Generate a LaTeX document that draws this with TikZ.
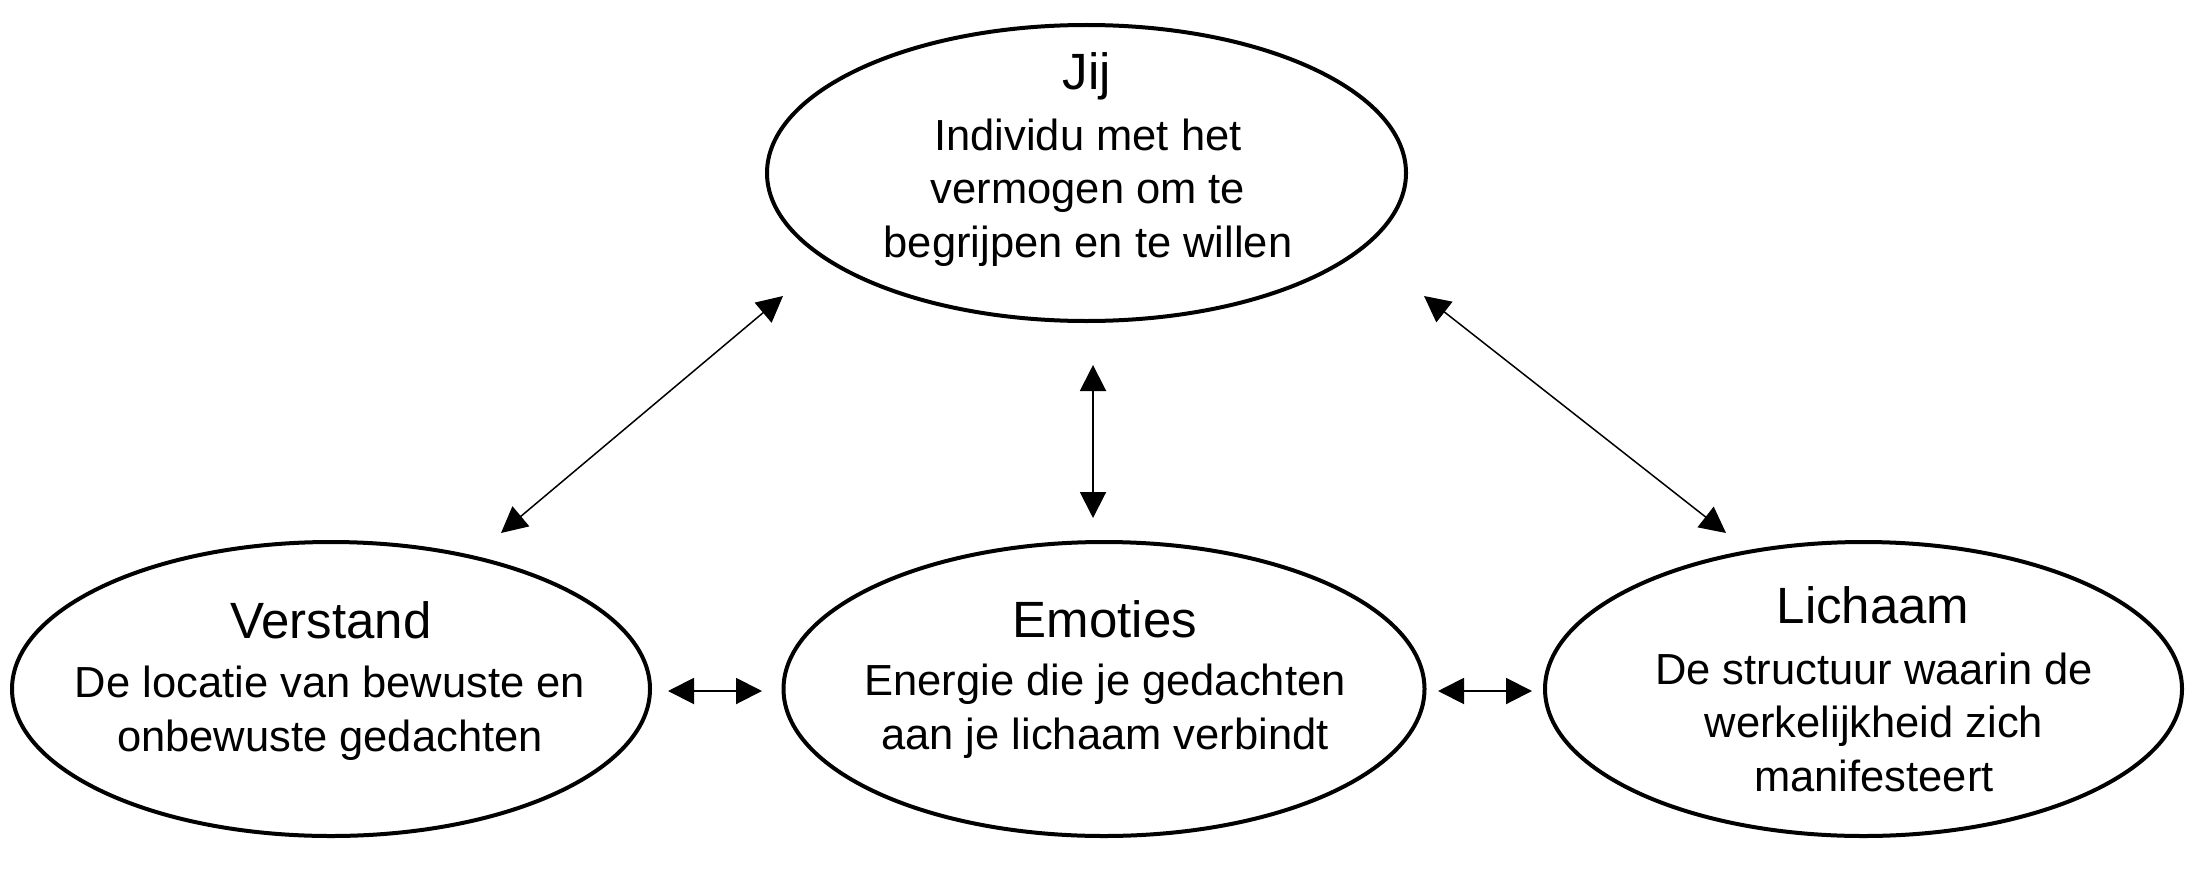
\documentclass[tikz,border=0pt]{standalone}
\usepackage{fontspec}
\setmainfont{Liberation Sans}
\usetikzlibrary{shapes.geometric,arrows.meta}
\begin{document}
\begin{tikzpicture}[x=0.5pt,y=-0.5pt,
  bubble/.style={draw=black,line width=2pt,ellipse,inner sep=0pt,outer sep=0pt,fill=white},
  ttl/.style={anchor=base,inner sep=0pt,font=\fontsize{25.5}{30}\selectfont},
  body/.style={anchor=base,inner sep=0pt,align=center,font=\fontsize{21.75}{26.6}\selectfont},
  tipT/.tip={Triangle[length=13pt,width=13pt]},
  link/.style={tipT-tipT,line width=1pt},
  diaglink/.style={tipT-tipT,line width=0.75pt}
]
\useasboundingbox (0,0) rectangle (2198,872);
% ellipses
\node[bubble,minimum width=319.5pt,minimum height=148pt] (jij) at (1086.5,173) {};
\node[bubble,minimum width=319pt,minimum height=147pt] (verstand) at (331,689) {};
\node[bubble,minimum width=320.5pt,minimum height=147pt] (emoties) at (1104,689) {};
\node[bubble,minimum width=318.5pt,minimum height=147pt] (lichaam) at (1863.5,689) {};
% texts (body nodes are placed at the baseline of their last line)
\node[ttl] (jijT) at (1087,90) {Jij};
\node[body] (jijB) at (1088,257) {Individu met het\\vermogen om te\\begrijpen en te willen};
\node[ttl] (verstandT) at (331,638) {Verstand};
\node[body] (verstandB) at (330,751) {De locatie van bewuste en\\onbewuste gedachten};
\node[ttl] (emotiesT) at (1105,637) {Emoties};
\node[body] (emotiesB) at (1105,749) {Energie die je gedachten\\aan je lichaam verbindt};
\node[ttl] (lichaamT) at (1873,623) {Lichaam};
\node[body] (lichaamB) at (1874,791) {De structuur waarin de\\werkelijkheid zich\\manifesteert};
% connector end points
\coordinate (a1) at (783,296);
\coordinate (a2) at (501,533);
\coordinate (b1) at (1424,296);
\coordinate (b2) at (1726,533);
\coordinate (c1) at (1093,365);
\coordinate (c2) at (1093,518);
\coordinate (d1) at (668,691);
\coordinate (d2) at (762,691);
\coordinate (e1) at (1438,691);
\coordinate (e2) at (1532,691);
% connectors
\draw[diaglink] (a1) -- (a2);
\draw[diaglink] (b1) -- (b2);
\draw[link] (c1) -- (c2);
\draw[link] (d1) -- (d2);
\draw[link] (e1) -- (e2);
\end{tikzpicture}
\end{document}
